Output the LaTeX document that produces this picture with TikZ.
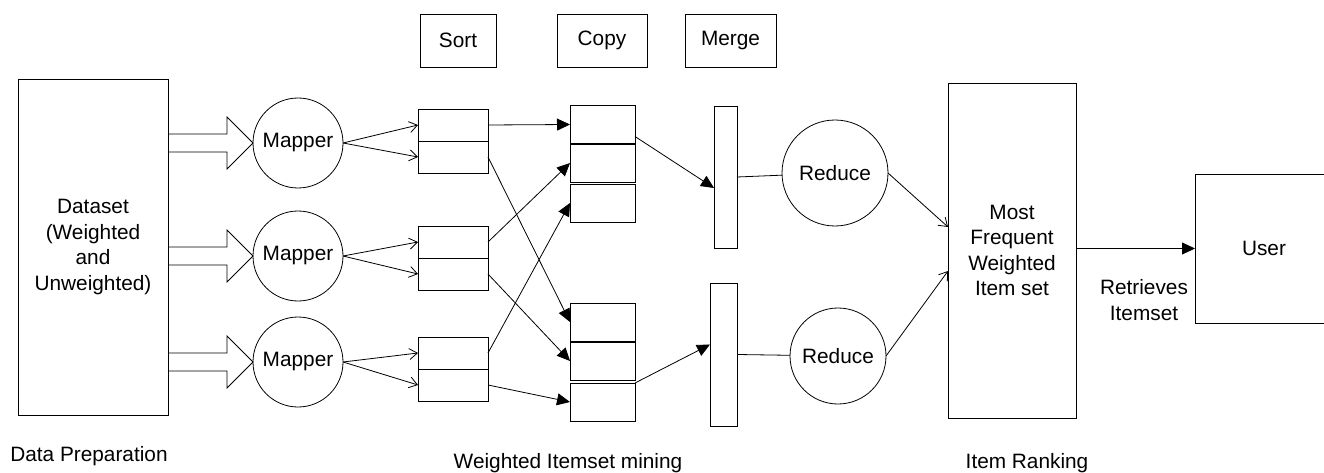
\documentclass[tikz,border=0pt]{standalone}
\usepackage{fontspec}
\setmainfont{Liberation Sans}
\usetikzlibrary{arrows.meta,calc}

\begin{document}
\begin{tikzpicture}[x=1pt,y=-1pt,line width=0.8pt,
  every node/.style={font=\fontsize{20.8}{25.5}\selectfont,inner sep=0pt,outer sep=0pt},
  box/.style={draw,rectangle,align=center},
  cell/.style={draw,rectangle,minimum width=70pt,minimum height=32pt},
  copycell/.style={draw,rectangle,minimum width=65pt,minimum height=38pt},
  mapnode/.style={draw,circle,minimum size=90pt},
  thinarr/.style={-{Straight Barb[length=8pt,width=11pt]}},
  solidarr/.style={-{Triangle[length=13pt,width=12pt]}}]
\useasboundingbox (0,0) rectangle (1324,473);
% Phase labels on top
\node[box,minimum width=76pt,minimum height=53pt] (sortlbl) at (458,40.5) {Sort};
\node[box,minimum width=90pt,minimum height=53pt] (copylbl) at (602,40.5) {Copy};
\node[box,minimum width=91pt,minimum height=53pt] (mergelbl) at (730.5,40.5) {Merge};
% Dataset and mappers
\node[box,minimum width=150pt,minimum height=336pt] (data) at (93,247) {Dataset\\(Weighted\\and\\Unweighted)};
\node[mapnode] (map1) at (298,143) {Mapper};
\node[mapnode] (map2) at (298,256) {Mapper};
\node[mapnode] (map3) at (298,362) {Mapper};
% Hollow arrows from the dataset to the mappers
\foreach \i in {1,2,3}
  \draw (data.east |- map\i.west) ++(0,-9) -- ++(59,0) -- ++(0,-17) -- (map\i.west)
    -- ++(-26,26) -- ++(0,-17) -- ++(-59,0);
% Sort buffers
\node[cell] (srt1a) at (453,125) {};
\node[cell] (srt1b) at (453,157) {};
\node[cell] (srt2a) at (453,242) {};
\node[cell] (srt2b) at (453,274) {};
\node[cell] (srt3a) at (453,353) {};
\node[cell] (srt3b) at (453,385) {};
\foreach \i in {1,2,3} {
  \draw[thinarr] (map\i.east) -- (srt\i a.west);
  \draw[thinarr] (map\i.east) -- (srt\i b.west);
}
% Copy buffers
\node[copycell] (cp1) at (602.5,124.5) {};
\node[copycell] (cp2) at (602.5,163) {};
\node[copycell] (cp3) at (602.5,203) {};
\node[copycell] (cp4) at (602.5,322) {};
\node[copycell] (cp5) at (602.5,361) {};
\node[copycell] (cp6) at (602.5,402) {};
\draw[solidarr] (srt1a.east) -- (cp1.west);
\draw[solidarr] (srt1b.east) -- (cp4.west);
\draw[solidarr] (srt2a.east) -- (cp2.west);
\draw[solidarr] (srt2b.east) -- (cp5.west);
\draw[solidarr] (srt3a.east) -- (cp3.west);
\draw[solidarr] (srt3b.east) -- (cp6.west);
% Merge bars
\node[box,minimum width=23pt,minimum height=142pt] (bar1) at (725.5,177) {};
\node[box,minimum width=27pt,minimum height=143pt] (bar2) at (723.5,354.5) {};
\draw[solidarr] ([yshift=-12pt]cp1.east) -- ([yshift=-11pt]bar1.west);
\draw[solidarr] (cp6.north east) -- ([yshift=10pt]bar2.west);
% Reducers
\node[draw,circle,minimum size=106pt] (red1) at (835,173) {Reduce};
\node[draw,circle,minimum size=96pt] (red2) at (838,356) {Reduce};
\draw (bar1.east) -- (red1);
\draw (bar2.east) -- (red2);
% Ranking and user
\node[box,minimum width=128pt,minimum height=335pt] (most) at (1012,250.5) {Most\\Frequent\\Weighted\\Item set};
\draw[thinarr] (red1.east) -- ([yshift=23.5pt]most.west);
\draw[thinarr] (red2.east) -- ([yshift=-20.5pt]most.west);
\node[box,minimum width=138pt,minimum height=149pt] (user) at (1264,248.5) {User};
\draw[solidarr] (most.east |- user.west) -- (user.west);
\node[align=center] (retr) at (1144,300) {Retrieves\\Itemset};
% Phase names at the bottom
\node (prep) at (89,456) {Data Preparation};
\node (mining) at (568,463) {Weighted Itemset mining};
\node (rank) at (1027,463) {Item Ranking};
\end{tikzpicture}
\end{document}
